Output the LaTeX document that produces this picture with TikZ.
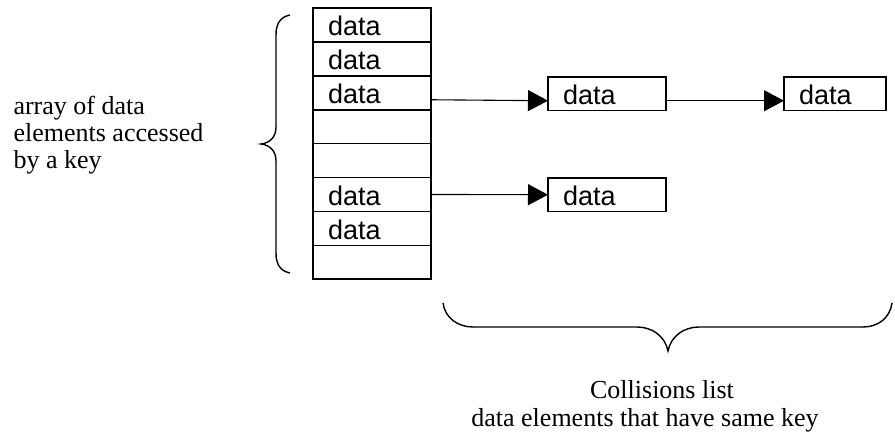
\documentclass[tikz,border=0pt]{standalone}
\usepackage{fontspec}
\setmainfont{Liberation Serif}
\newfontfamily\cellfont{Liberation Sans}
\usetikzlibrary{positioning,arrows.meta}

\tikzset{
  cell/.style={draw, line width=1.6pt, outer sep=0pt, minimum width=118pt,
    minimum height=33.9pt, inner xsep=15pt, text width=88pt, align=left,
    text height=22pt, text depth=0pt, font=\cellfont\fontsize{27}{30}\selectfont},
  link/.style={line width=1.1pt, -{Triangle[length=20pt,width=21pt]}},
  brace/.style={line width=1.4pt},
  note/.style={font=\fontsize{26}{27}\selectfont}
}

\begin{document}
\begin{tikzpicture}[x=1pt,y=-1pt]
    \useasboundingbox (0,0) rectangle (895,442);

    % Array of cells
    \node[cell, anchor=north west] (c1) at (313,8) {data};
    \node[cell, below=0pt of c1] (c2) {data};
    \node[cell, below=0pt of c2] (c3) {data};
    \node[cell, below=0pt of c3] (c4) {};
    \node[cell, below=0pt of c4] (c5) {};
    \node[cell, below=0pt of c5] (c6) {data};
    \node[cell, below=0pt of c6] (c7) {data};
    \node[cell, below=0pt of c7] (c8) {};

    % Collision lists
    \node[cell, anchor=north west, minimum height=33.5pt] (l1) at (548,77) {data};
    \node[cell, anchor=north west, minimum height=33.5pt, minimum width=102pt,
      text width=72pt] (l2) at (784,77) {data};
    \node[cell, anchor=north west, minimum height=33.5pt] (l3) at (548,178) {data};

    % Links
    \draw[link] ([yshift=-7pt]c3.east) -- ([yshift=-7pt]l1.west);
    \draw[link] ([yshift=-7pt]l1.east) -- ([yshift=-7pt]l2.west);
    \draw[link] (c6.east) -- (l3.west);

    % Left brace
    \draw[brace] (290,15) .. controls (280,17) and (276,24) .. (276,35)
      -- (276,127) .. controls (276,137) and (270,143) .. (261,144)
      .. controls (270,145) and (276,151) .. (276,161)
      -- (276,253) .. controls (276,264) and (280,271) .. (290,273);

    % Bottom brace
    \draw[brace] (443,303) .. controls (445,318) and (458,327) .. (473,327)
      -- (637,327) .. controls (652,327) and (665,336) .. (668,351)
      .. controls (671,336) and (684,327) .. (699,327)
      -- (863,327) .. controls (878,327) and (890,318) .. (892,303);

    % Labels
    \node[note, anchor=base west, align=left] (arr) at (10,168)
      {array of data\\elements accessed\\by a key};
    \node[note, anchor=base] (coll) at (662,398) {Collisions list};
    \node[note, anchor=base] (same) at (645,426) {data elements that have same key};
\end{tikzpicture}
\end{document}
